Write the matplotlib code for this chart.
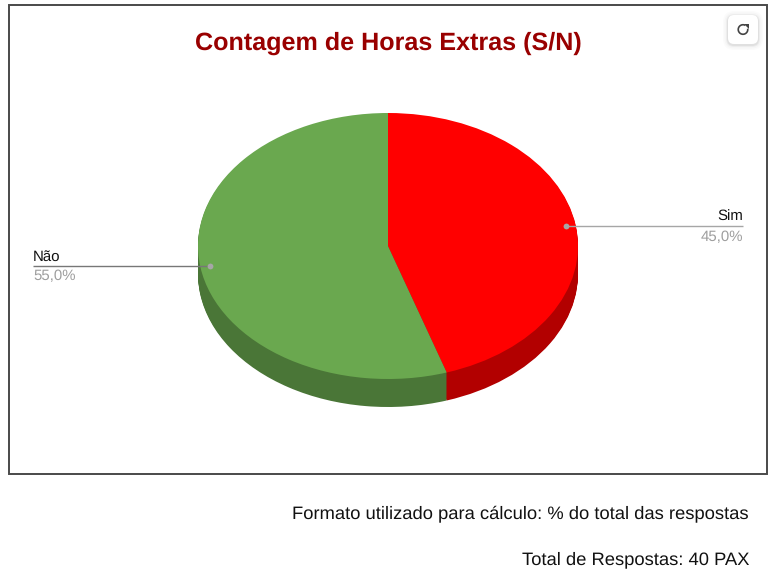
import math
import matplotlib
matplotlib.use("Agg")
import matplotlib.pyplot as plt
from matplotlib.patches import Arc, FancyBboxPatch, Polygon, Rectangle

####### Chart data #######
labels = ["Sim", "Não"]
values = [45.0, 55.0]
top_colors = ["#ff0000", "#6aa84f"]
side_colors = ["#b20000", "#4a7637"]
line_colors = ["#a6a6a6", "#777777"]
title = "Contagem de Horas Extras (S/N)"
notes = ["Formato utilizado para cálculo: % do total das respostas",
         "Total de Respostas: 40 PAX"]

####### Layout in pixels #######
W, H = 775, 572
cx, cy, rx, ry = 388, 246, 190, 133
depth = 28

plt.rcParams["font.family"] = ["Liberation Sans", "DejaVu Sans"]
plt.rcParams["text.hinting"] = "no_hinting"
fig = plt.figure(figsize=(W / 100, H / 100), dpi=100, facecolor="white")

## Pie: stretched axes make the circle an ellipse, stacked layers make the side
pad = 2
ax_pie = fig.add_axes([(cx - rx - pad) / W, (H - cy - ry - depth - pad) / H,
                       (2 * rx + 2 * pad) / W, (2 * ry + depth + 2 * pad) / H])
for i in range(depth, 0, -1):
    ax_pie.pie(values, colors=side_colors, startangle=90, counterclock=False,
               center=(0, -i / ry), radius=1)
ax_pie.pie(values, colors=top_colors, startangle=90, counterclock=False,
           center=(0, 0), radius=1)
ax_pie.set_aspect("auto")
ax_pie.set_xlim(-1 - pad / rx, 1 + pad / rx)
ax_pie.set_ylim(-1 - (depth + pad) / ry, 1 + pad / ry)

## Overlay in pixel coordinates (y down)
ax = fig.add_axes([0, 0, 1, 1], zorder=3)
ax.set_xlim(0, W)
ax.set_ylim(H, 0)
ax.axis("off")
ax.patch.set_alpha(0)

ax.add_patch(Rectangle((8.8, 5), 758, 469, fill=False, ec="#4a4a4a", lw=1.4))
ax.text(388, 50, title, ha="center", va="baseline", fontsize=18.1,
        fontweight="bold", color="#990000")

## Leader lines and labels, placed from the slice mid angles
cum = 0
text_x = [743, 33]
for i, v in enumerate(values):
    mid = (cum + v / 2) / sum(values) * 2 * math.pi
    cum += v
    px = cx + 0.948 * rx * math.sin(mid)
    py = cy - 0.948 * ry * math.cos(mid)
    ax.plot([px, text_x[i]], [py, py], color=line_colors[i], lw=1.0,
            solid_capstyle="butt")
    ax.plot([px], [py], "o", ms=4.2, color="#a6a6a6", mec="none")
    ha = "right" if text_x[i] > cx else "left"
    ax.text(text_x[i], py - 5, labels[i], ha=ha, va="baseline",
            fontsize=10.8, color="#111111")
    ax.text(text_x[i], py + 14.5, ("%.1f%%" % v).replace(".", ","), ha=ha,
            va="baseline", fontsize=10.8, color="#9e9e9e")

## Refresh button
for grow, alpha in [(5, 0.015), (3.5, 0.02), (2, 0.035), (1, 0.05)]:
    ax.add_patch(FancyBboxPatch((728 - grow, 15 - grow + 1), 30 + 2 * grow, 29 + 2 * grow,
                                boxstyle="round,pad=0,rounding_size=%g" % (6 + grow),
                                fc="black", ec="none", alpha=alpha))
ax.add_patch(FancyBboxPatch((728, 15), 30, 29, boxstyle="round,pad=0,rounding_size=6",
                            fc="white", ec="none"))
ax.add_patch(Arc((743, 29.5), 9.5, 9.5, theta1=-10, theta2=300, color="#444444", lw=1.2))
ax.add_patch(Polygon([(744, 24), (748.5, 24), (748.5, 28.5)], color="#444444", lw=0))

## Notes under the chart
ax.text(749, 518, notes[0], ha="right", va="baseline", fontsize=13.2, color="#111111")
ax.text(749, 564, notes[1], ha="right", va="baseline", fontsize=13.2, color="#111111")

fig.savefig("out.png", dpi=100, facecolor="white")
